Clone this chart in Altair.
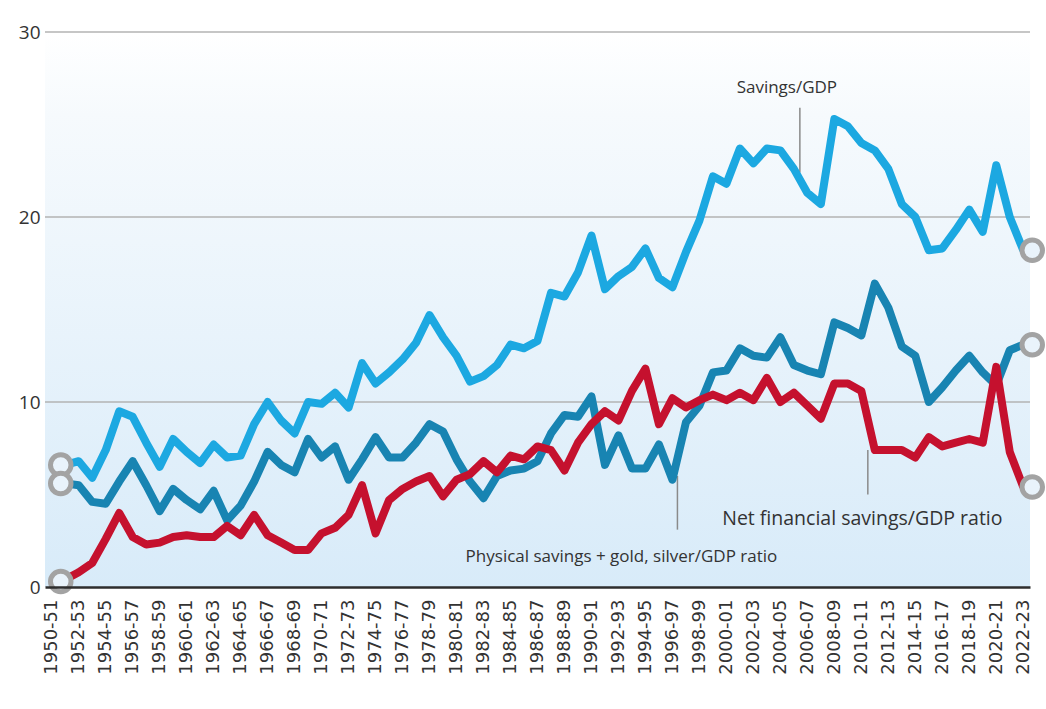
import altair as alt
import pandas as pd

years = [f"{y}-{str(y + 1)[-2:]}" for y in range(1950, 2023)]

savings_gdp = [
    6.6, 6.6, 6.8, 5.9, 7.4, 9.5, 9.2, 7.8, 6.5, 8.0,
    7.3, 6.7, 7.7, 7.0, 7.1, 8.8, 10.0, 9.0, 8.3, 10.0,
    9.9, 10.5, 9.7, 12.1, 11.0, 11.6, 12.3, 13.2, 14.7, 13.5,
    12.5, 11.1, 11.4, 12.0, 13.1, 12.9, 13.3, 15.9, 15.7, 17.0,
    19.0, 16.1, 16.8, 17.3, 18.3, 16.7, 16.2, 18.1, 19.8, 22.2,
    21.8, 23.7, 22.9, 23.7, 23.6, 22.6, 21.3, 20.7, 25.3, 24.9,
    24.0, 23.6, 22.6, 20.7, 20.0, 18.2, 18.3, 19.3, 20.4, 19.2,
    22.8, 20.0, 18.2,
]

physical_gdp = [
    5.6, 5.6, 5.5, 4.6, 4.5, 5.7, 6.8, 5.5, 4.1, 5.3,
    4.7, 4.2, 5.2, 3.6, 4.4, 5.7, 7.3, 6.6, 6.2, 8.0,
    7.0, 7.6, 5.8, 6.9, 8.1, 7.0, 7.0, 7.8, 8.8, 8.4,
    6.9, 5.7, 4.8, 6.0, 6.3, 6.4, 6.8, 8.3, 9.3, 9.2,
    10.3, 6.6, 8.2, 6.4, 6.4, 7.7, 5.8, 8.9, 9.8, 11.6,
    11.7, 12.9, 12.5, 12.4, 13.5, 12.0, 11.7, 11.5, 14.3, 14.0,
    13.6, 16.4, 15.1, 13.0, 12.5, 10.0, 10.8, 11.7, 12.5, 11.6,
    10.9, 12.8, 13.1,
]

net_financial_gdp = [
    0.3, 0.4, 0.8, 1.3, 2.6, 4.0, 2.7, 2.3, 2.4, 2.7,
    2.8, 2.7, 2.7, 3.3, 2.8, 3.9, 2.8, 2.4, 2.0, 2.0,
    2.9, 3.2, 3.9, 5.5, 2.9, 4.7, 5.3, 5.7, 6.0, 4.9,
    5.8, 6.1, 6.8, 6.2, 7.1, 6.9, 7.6, 7.4, 6.3, 7.8,
    8.8, 9.5, 9.0, 10.6, 11.8, 8.8, 10.2, 9.7, 10.1, 10.4,
    10.1, 10.5, 10.1, 11.3, 10.0, 10.5, 9.8, 9.1, 11.0, 11.0,
    10.6, 7.4, 7.4, 7.4, 7.0, 8.1, 7.6, 7.8, 8.0, 7.8,
    11.9, 7.3, 5.4,
]

series_names = ["Savings/GDP", "Net financial", "Physical"]
series_colors = ["#1ca8e1", "#c5112e", "#1884b2"]
grid_values = [10, 20, 30]

ann_text = ["Savings/GDP", "Physical savings + gold, silver/GDP ratio",
            "Net financial savings/GDP ratio"]
ann_year = ["2005-06", "1992-93", "2010-11"]
ann_value = [27.0, 1.6, 3.7]
ann_size = [17, 17, 19.5]
ann_dx = [-7, 3, 1]

lead_year = ["2005-06", "1996-97", "2011-12"]
lead_top = [25.9, 6.0, 7.4]
lead_bottom = [22.4, 3.1, 5.0]
lead_dx = [6, 5, -7]

rows = []
for name, vals in zip(["Savings/GDP", "Physical", "Net financial"],
                      [savings_gdp, physical_gdp, net_financial_gdp]):
    for yr, v in zip(years, vals):
        rows.append({"year": yr, "value": v, "series": name})
df = pd.DataFrame(rows)
ends = df[df["year"].isin([years[0], years[-1]])]

W, H = 985, 555
xscale = alt.Scale(type="point", padding=0.5)
yscale = alt.Scale(domain=[0, 30])

gradient = alt.LinearGradient(
    gradient="linear",
    stops=[alt.GradientStop(color="#ffffff", offset=0),
           alt.GradientStop(color="#f6fafd", offset=0.15),
           alt.GradientStop(color="#d8ebf9", offset=1)],
    x1=0, x2=0, y1=0, y2=1,
)

bg = alt.Chart(pd.DataFrame({"a": [0]})).mark_rect(color=gradient).encode(
    x=alt.value(0), x2=alt.value(W), y=alt.value(0), y2=alt.value(H)
)

grid = alt.Chart(pd.DataFrame({"g": grid_values})).mark_rule(
    color="#b3b3b3", strokeWidth=1.5
).encode(y=alt.Y("g:Q", scale=yscale))

lines = alt.Chart(df).mark_line(strokeWidth=8, strokeJoin="round").encode(
    x=alt.X("year:O", sort=years, scale=xscale,
            axis=alt.Axis(values=years[::2], title=None, labelAngle=270, labelAlign="right",
                          labelBaseline="middle", labelFont="DejaVu Sans", labelFontSize=18,
                          labelColor="#333333", labelPadding=12, ticks=False, grid=False,
                          domainColor="#2d2d2d", domainWidth=2.5, zindex=1)),
    y=alt.Y("value:Q", scale=yscale,
            axis=alt.Axis(values=[0, 10, 20, 30], title=None, grid=False, domain=False,
                          ticks=False, labelFont="Open Sans", labelFontSize=19,
                          labelColor="#333333", labelPadding=5)),
    color=alt.Color("series:N", scale=alt.Scale(domain=series_names, range=series_colors),
                    legend=None),
)

circles = alt.Chart(ends).mark_point(
    shape="circle", filled=True, fill="#e9f3fb", stroke="#a3a3a3", strokeWidth=5,
    size=420, opacity=1, xOffset=9
).encode(
    x=alt.X("year:O", sort=years, scale=xscale),
    y=alt.Y("value:Q", scale=yscale),
)

lead_df = pd.DataFrame({"year": lead_year, "top": lead_top, "bottom": lead_bottom})
leaders = alt.layer(*[
    alt.Chart(lead_df.iloc[[k]]).mark_rule(color="#8a8a8a", strokeWidth=1.5, xOffset=lead_dx[k]).encode(
        x=alt.X("year:O", sort=years, scale=xscale),
        y=alt.Y("top:Q", scale=yscale),
        y2="bottom:Q",
    ) for k in range(3)
])

ann_df = pd.DataFrame({"year": ann_year, "value": ann_value, "text": ann_text})
texts = alt.layer(*[
    alt.Chart(ann_df.iloc[[k]]).mark_text(
        font="Open Sans", fontSize=ann_size[k], color="#333333", align="center",
        baseline="middle", dx=ann_dx[k]
    ).encode(
        x=alt.X("year:O", sort=years, scale=xscale),
        y=alt.Y("value:Q", scale=yscale),
        text="text:N",
    ) for k in range(3)
])

chart = alt.layer(bg, grid, leaders, lines, circles, texts).properties(
    width=W, height=H,
    padding={"left": 45, "top": 32, "right": 16, "bottom": 122},
    autosize=alt.AutoSizeParams(type="none"),
    background="#ffffff",
).configure_view(stroke=None)

chart.save("out.html", embed_options={"renderer": "svg", "actions": False})
